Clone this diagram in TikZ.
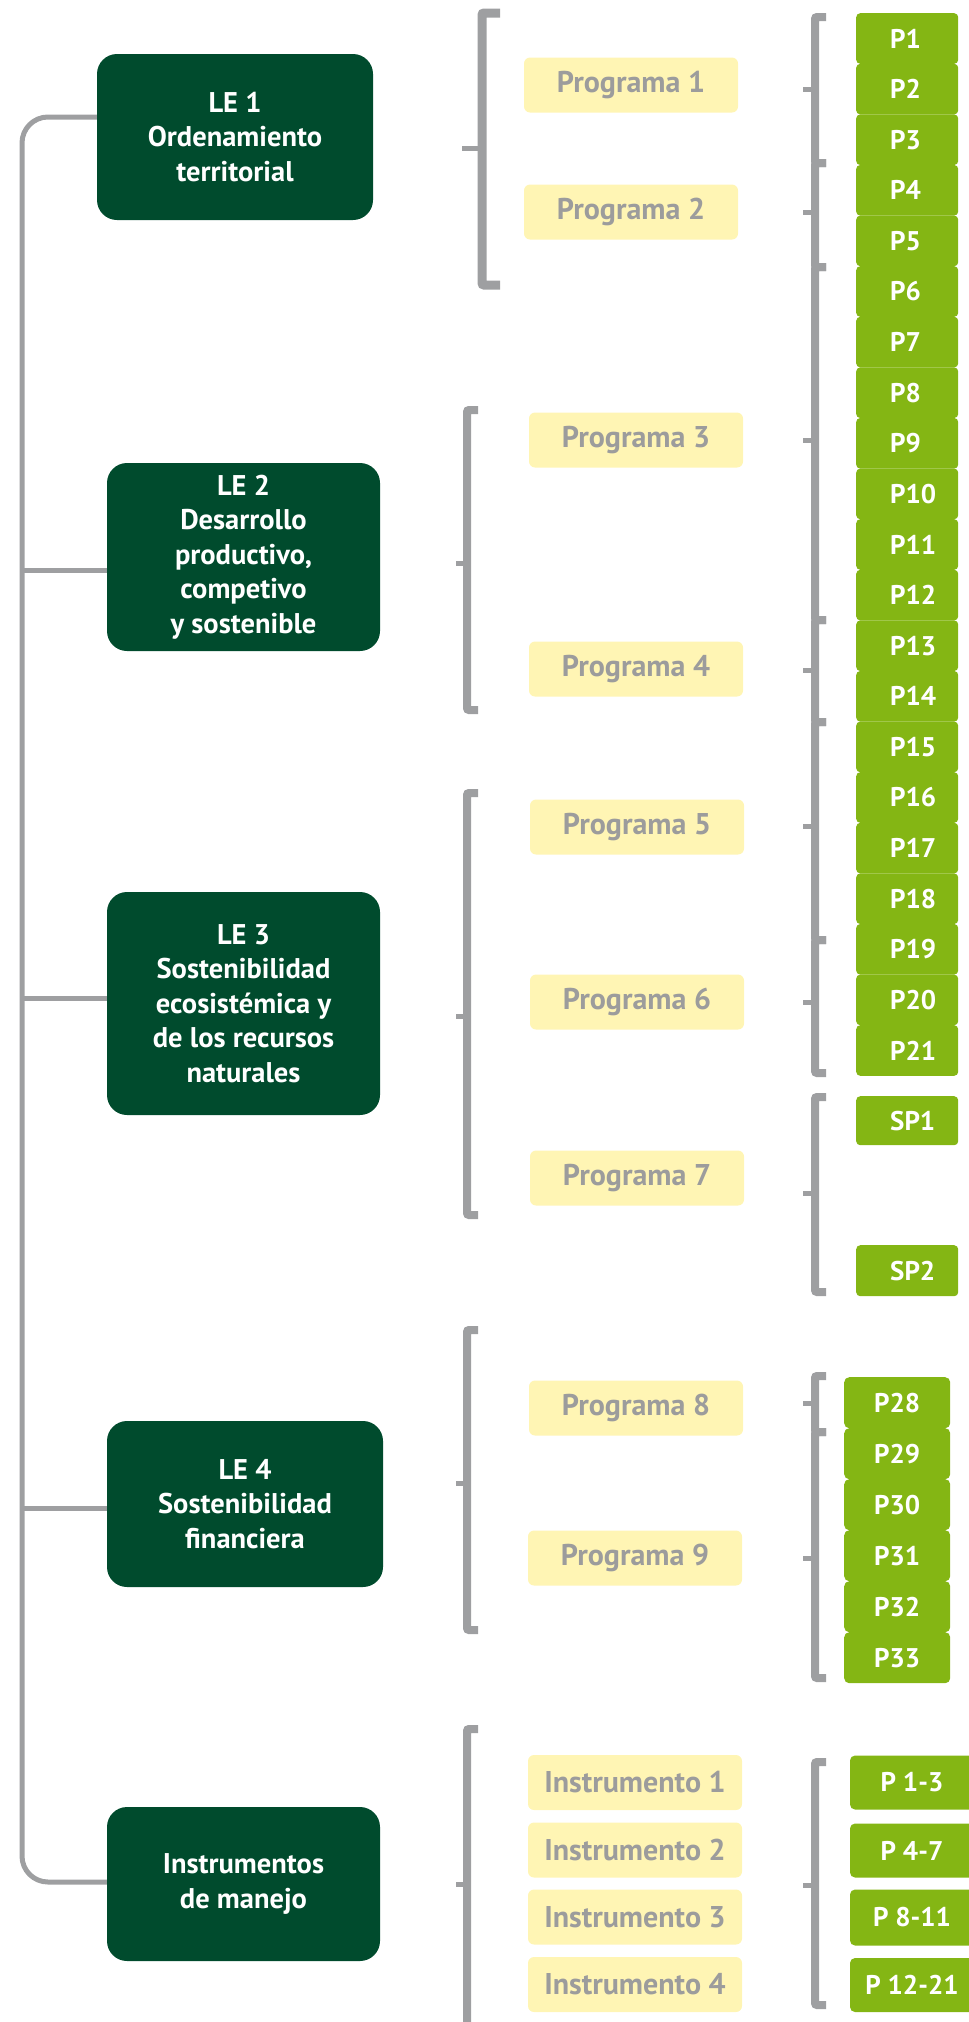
\documentclass[tikz,border=0pt]{standalone}
\usepackage{fontspec}
\setmainfont{PT Sans}
\definecolor{dkgreen}{HTML}{004B2D}
\definecolor{ltgreen}{HTML}{84B614}
\definecolor{pale}{HTML}{FFF5B4}
\definecolor{linegray}{HTML}{9E9FA1}
\definecolor{txtgray}{HTML}{9C9C9C}
\tikzset{
  lebox/.style={fill=dkgreen, rounded corners=20pt, text=white, align=center, inner sep=0pt,
    font=\bfseries\fontsize{28.5}{34.5}\selectfont},
  prog/.style={fill=pale, rounded corners=6pt, text=txtgray, inner sep=0pt,
    minimum width=214pt, minimum height=55pt, font=\bfseries\fontsize{30}{32}\selectfont},
  pcol/.style={fill=ltgreen, rounded corners=4pt, text=white, inner ysep=0pt, inner xsep=34pt,
    text width=34pt, align=left, minimum height=50.6pt, font=\bfseries\fontsize{27}{30}\selectfont},
  pcen/.style={fill=ltgreen, rounded corners=5pt, text=white, inner sep=0pt,
    minimum width=106pt, minimum height=51pt, font=\bfseries\fontsize{27}{30}\selectfont},
  trunk/.style={draw=linegray, line width=5pt},
  brk/.style={draw=linegray, line width=8pt, rounded corners=2pt},
  nub/.style={draw=linegray, line width=5pt}
}
\begin{document}
\begin{tikzpicture}[x=1pt,y=-1pt]
\useasboundingbox (0,0) rectangle (969,2022);
\clip (0,0) rectangle (969,2022);

% main boxes
\node[lebox, minimum width=276pt, minimum height=166pt] (LE1) at (235,137) {LE 1\\Ordenamiento\\territorial};
\node[lebox, minimum width=273pt, minimum height=188pt] (LE2) at (243.5,557) {LE 2\\Desarrollo\\productivo,\\competivo\\y sostenible};
\node[lebox, minimum width=273pt, minimum height=223pt] (LE3) at (243.5,1003.5) {LE 3\\Sostenibilidad\\ecosistémica y\\de los recursos\\naturales};
\node[lebox, minimum width=276pt, minimum height=166pt] (LE4) at (245,1504) {LE 4\\Sostenibilidad\\financiera};
\node[lebox, minimum width=273pt, minimum height=154pt] (IM) at (243.5,1884) {Instrumentos\\de manejo};

% trunk
\coordinate (t1) at (22,117);
\coordinate (t2) at (22,570);
\coordinate (t3) at (22,998);
\coordinate (t4) at (22,1508);
\coordinate (t5) at (22,1882);
\draw[trunk, rounded corners=26pt] (t1 -| LE1.west) -- (t1) -- (t5) -- (t5 -| IM.west);
\draw[trunk] (t2) -- (t2 -| LE2.west);
\draw[trunk] (t3) -- (t3 -| LE3.west);
\draw[trunk] (t4) -- (t4 -| LE4.west);

% programme boxes
\node[prog] (PR1) at (631,85) {Programa 1};
\node[prog] (PR2) at (631,212) {Programa 2};
\node[prog] (PR3) at (636,440) {Programa 3};
\node[prog] (PR4) at (636,669) {Programa 4};
\node[prog] (PR5) at (637,827) {Programa 5};
\node[prog] (PR6) at (637,1002) {Programa 6};
\node[prog] (PR7) at (637,1178) {Programa 7};
\node[prog] (PR8) at (636,1408) {Programa 8};
\node[prog] (PR9) at (635,1558) {Programa 9};
\node[prog] (IN1) at (635,1782.5) {Instrumento 1};
\node[prog] (IN2) at (635,1850) {Instrumento 2};
\node[prog] (IN3) at (635,1917) {Instrumento 3};
\node[prog] (IN4) at (635,1984.5) {Instrumento 4};

% left braces (LE -> programmes)
\draw[brk, line width=9pt] (500,13) -- (482,13) -- (482,285) -- (500,285);
\draw[nub] (462,148) -- (482,148);
\foreach \t/\b/\m in {410/710/563, 793/1215/1016, 1330/1630/1483, 1729/2040/1884}{
  \draw[brk] (478,\t) -- (467,\t) -- (467,\b) -- (478,\b);
  \draw[nub] (456,\m) -- (467,\m);
}

% right braces (programmes -> projects)
\foreach \t/\b/\m in {17/163/89, 163/267/212, 267/620/440, 620/722/670, 722/940/826,
  940/1073/1002, 1097/1292/1193, 1376/1432/1403, 1432/1678/1558, 1762/2005/1885}{
  \draw[brk] (826,\t) -- (815,\t) -- (815,\b) -- (826,\b);
  \draw[nub] (803,\m) -- (815,\m);
}

% project boxes
\foreach \i in {1,...,21}{
  \node[pcol, anchor=north west] (P\i) at (856,{13+50.6*(\i-1)}) {P\i};
}
\node[pcol, anchor=north west, minimum height=49pt] (SP1) at (856,1096) {SP1};
\node[pcol, anchor=north west, minimum height=51pt] (SP2) at (856,1245) {SP2};
\foreach \i [count=\k from 0] in {28,...,33}{
  \node[pcen, anchor=north west] (P\i) at (844,{1377+51*\k}) {P\i};
}
\node[pcen, minimum width=124pt, minimum height=54pt] (IP1) at (912,1782.5) {P 1-3};
\node[pcen, minimum width=124pt, minimum height=54pt] (IP2) at (912,1850.5) {P 4-7};
\node[pcen, minimum width=124pt, minimum height=56pt] (IP3) at (912,1917.5) {P 8-11};
\node[pcen, minimum width=124pt, minimum height=54pt] (IP4) at (912,1985) {P 12-21};
\end{tikzpicture}
\end{document}
